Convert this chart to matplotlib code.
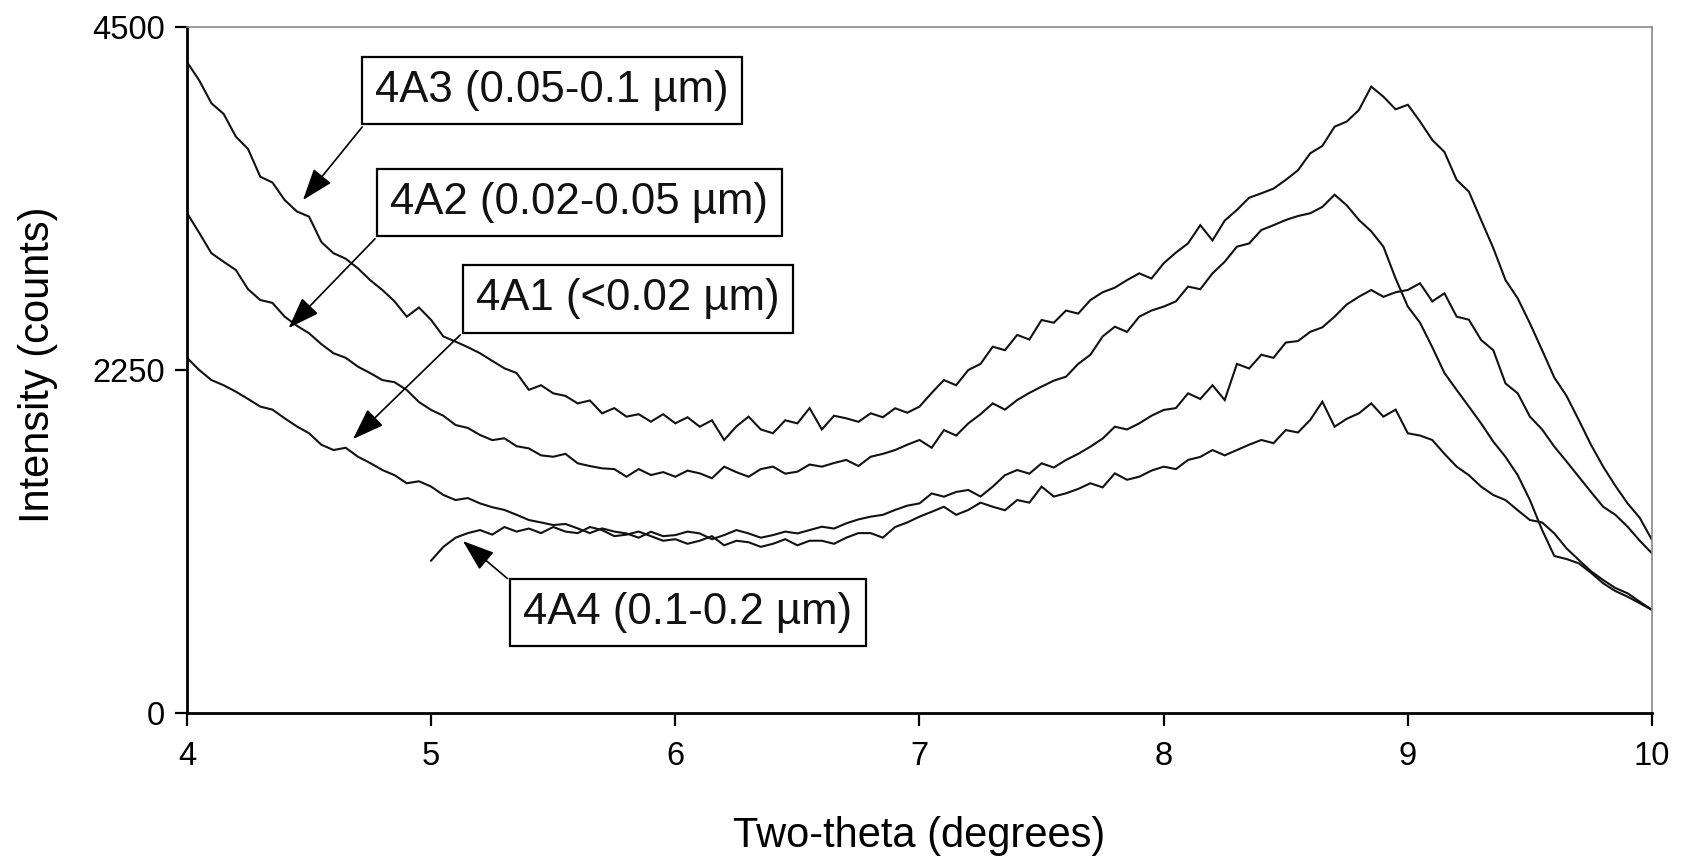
import numpy as np
import matplotlib
matplotlib.use("Agg")
import matplotlib.pyplot as plt

plt.rcParams['font.family'] = ['Liberation Sans', 'DejaVu Sans']

# ---------------- data ----------------
two_theta = np.round(np.linspace(4.0, 10.0, 121), 2)
two_theta_4a4 = np.round(np.linspace(5.0, 10.0, 101), 2)

i_4a3 = [4270, 4150, 4000, 3930, 3781, 3700, 3518, 3480, 3365, 3290,
         3256, 3090, 3016, 2980, 2917, 2840, 2775, 2700, 2600, 2660,
         2578, 2470, 2436, 2400, 2360, 2310, 2261, 2230, 2120, 2150,
         2097, 2080, 2031, 2050, 1966, 2000, 1944, 1960, 1911, 1960,
         1900, 1940, 1878, 1920, 1791, 1880, 1944, 1860, 1835, 1920,
         1900, 2000, 1860, 1950, 1933, 1910, 1966, 1940, 1999, 1970,
         2010, 2100, 2184, 2150, 2250, 2290, 2403, 2380, 2480, 2450,
         2578, 2560, 2640, 2620, 2709, 2760, 2790, 2840, 2884, 2850,
         2950, 3020, 3081, 3200, 3100, 3230, 3300, 3380, 3409, 3440,
         3497, 3560, 3671, 3720, 3846, 3880, 3956, 4109, 4043, 3960,
         3990, 3880, 3759, 3680, 3497, 3420, 3234, 3050, 2840, 2720,
         2556, 2380, 2200, 2080, 1922, 1760, 1616, 1490, 1375, 1280,
         1135]

i_4a2 = [3280, 3150, 3016, 2960, 2906, 2780, 2709, 2690, 2600, 2540,
         2491, 2420, 2360, 2330, 2272, 2230, 2184, 2170, 2119, 2040,
         1988, 1950, 1889, 1870, 1824, 1790, 1802, 1750, 1736, 1690,
         1681, 1700, 1638, 1620, 1605, 1600, 1550, 1600, 1561, 1580,
         1550, 1590, 1572, 1540, 1616, 1580, 1550, 1600, 1616, 1570,
         1583, 1630, 1616, 1640, 1660, 1620, 1681, 1700, 1725, 1760,
         1791, 1740, 1856, 1820, 1900, 1960, 2031, 1990, 2053, 2100,
         2141, 2180, 2206, 2290, 2350, 2470, 2534, 2500, 2600, 2640,
         2666, 2700, 2797, 2780, 2884, 2960, 3059, 3080, 3168, 3200,
         3234, 3260, 3278, 3320, 3400, 3330, 3234, 3160, 3059, 2850,
         2666, 2560, 2400, 2230, 2119, 2010, 1900, 1780, 1680, 1560,
         1397, 1200, 1030, 1010, 982, 920, 851, 800, 763, 720,
         676]

i_4a1 = [2330, 2250, 2184, 2150, 2108, 2060, 2010, 1990, 1933, 1880,
         1835, 1760, 1725, 1740, 1681, 1640, 1594, 1560, 1507, 1520,
         1485, 1430, 1397, 1410, 1375, 1350, 1332, 1300, 1266, 1250,
         1233, 1240, 1211, 1180, 1211, 1190, 1178, 1150, 1189, 1160,
         1167, 1190, 1178, 1140, 1167, 1200, 1178, 1150, 1167, 1190,
         1178, 1200, 1222, 1210, 1244, 1270, 1288, 1300, 1332, 1360,
         1375, 1440, 1419, 1450, 1463, 1420, 1485, 1560, 1594, 1570,
         1638, 1610, 1660, 1700, 1747, 1800, 1878, 1860, 1900, 1950,
         1988, 2000, 2097, 2060, 2150, 2053, 2290, 2260, 2350, 2330,
         2430, 2440, 2500, 2530, 2600, 2680, 2731, 2775, 2730, 2760,
         2775, 2819, 2700, 2753, 2600, 2580, 2447, 2380, 2162, 2097,
         1944, 1860, 1747, 1650, 1550, 1450, 1353, 1300, 1222, 1130,
         1047]

i_4a4 = [1000, 1090, 1150, 1180, 1200, 1170, 1220, 1190, 1210, 1180,
         1220, 1190, 1180, 1220, 1200, 1160, 1170, 1190, 1160, 1130,
         1140, 1110, 1130, 1160, 1100, 1130, 1120, 1090, 1110, 1140,
         1100, 1130, 1130, 1110, 1150, 1180, 1180, 1150, 1220, 1250,
         1288, 1320, 1353, 1300, 1332, 1380, 1353, 1330, 1397, 1380,
         1485, 1420, 1441, 1470, 1507, 1480, 1572, 1530, 1550, 1590,
         1616, 1600, 1660, 1680, 1725, 1690, 1725, 1760, 1791, 1770,
         1856, 1840, 1922, 2042, 1878, 1930, 1966, 2031, 1944, 1990,
         1835, 1820, 1791, 1700, 1616, 1560, 1485, 1430, 1397, 1330,
         1266, 1250, 1178, 1080, 1004, 930, 872, 820, 785, 730,
         676]

labels = ["4A3 (0.05-0.1 \u00b5m)", "4A2 (0.02-0.05 \u00b5m)",
          "4A1 (<0.02 \u00b5m)", "4A4 (0.1-0.2 \u00b5m)"]
# arrow tips (2theta, counts) and label-box centres
tips = [(4.475, 3365), (4.416, 2525), (4.68, 1797), (5.13, 1128)]
box_centres = [(5.495, 4084), (5.607, 3349), (5.806, 2716), (6.052, 659)]
arrow_corner = [(0, 0), (0, 0), (0, 0), (0, 1)]

x_ticks = [4, 5, 6, 7, 8, 9, 10]
y_ticks = [0, 2250, 4500]

# ---------------- figure ----------------
W, H = 1688, 860
fig = plt.figure(figsize=(W / 100, H / 100), dpi=100)
ax = fig.add_axes([187 / W, 1 - 713 / H, 1465 / W, 686 / H])

for xs, ys in [(two_theta, i_4a3), (two_theta, i_4a2),
               (two_theta, i_4a1), (two_theta_4a4, i_4a4)]:
    ax.plot(xs, ys, color='#111111', lw=1.5, solid_joinstyle='miter')

ax.set_xlim(4, 10)
ax.set_ylim(0, 4500)
ax.set_xticks(x_ticks)
ax.set_xticklabels([str(t) for t in x_ticks])
ax.set_yticks(y_ticks)
ax.set_yticklabels([str(t) for t in y_ticks])
ax.tick_params(axis='both', direction='out', length=9, width=1.6,
               labelsize=23.5, colors='black')
ax.tick_params(axis='x', pad=11)
ax.tick_params(axis='y', pad=7)

for side in ['left', 'bottom']:
    ax.spines[side].set_linewidth(2.0)
    ax.spines[side].set_color('black')
for side in ['top', 'right']:
    ax.spines[side].set_linewidth(1.2)
    ax.spines[side].set_color('#8a8a8a')

ax.set_xlabel("Two-theta (degrees)", fontsize=30)
ax.xaxis.set_label_coords(0.5, -0.18)
ax.xaxis.label.set_va('center')
ax.set_ylabel("Intensity (counts)", fontsize=30)
ax.yaxis.set_label_coords(-0.102, 0.507)
ax.yaxis.label.set_va('center')
ax.yaxis.label.set_ha('center')

for lab, tip, ctr, rp in zip(labels, tips, box_centres, arrow_corner):
    ax.annotate(lab, xy=tip, xytext=ctr, textcoords='data',
                ha='center', va='center', fontsize=31.5, color='#111111',
                bbox=dict(boxstyle='square,pad=0.3', fc='white',
                          ec='black', lw=1.6),
                arrowprops=dict(arrowstyle='-|>,head_length=0.9,head_width=0.32',
                                mutation_scale=22, color='black', lw=1.2,
                                relpos=rp, shrinkB=0))

fig.savefig("out.png", dpi=100, facecolor='white')
